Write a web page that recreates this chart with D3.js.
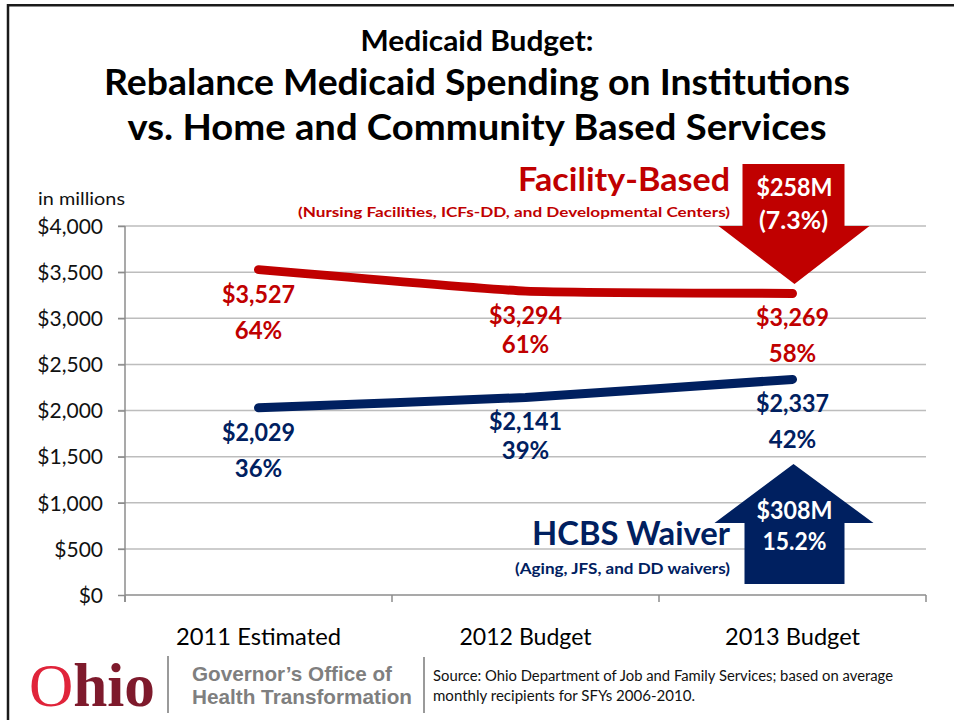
<!DOCTYPE html>
<html>
<head>
<meta charset="utf-8">
<script src="https://cdn.jsdelivr.net/npm/d3@7"></script>
<style>
  html, body { margin: 0; padding: 0; background: #fff; }
  svg { display: block; font-family: Lato, "Open Sans", sans-serif; }
</style>
</head>
<body>
<svg id="chart" width="954" height="720"></svg>
<script>
// ---- data ----
const categories = ["2011 Estimated", "2012 Budget", "2013 Budget"];
const facilityValues = [3527, 3294, 3269];
const facilityShares = ["64%", "61%", "58%"];
const hcbsValues = [2029, 2141, 2337];
const hcbsShares = ["36%", "39%", "42%"];
const yTickValues = [0, 500, 1000, 1500, 2000, 2500, 3000, 3500, 4000];
const facilityChange = ["$258M", "(7.3%)"];
const hcbsChange = ["$308M", "15.2%"];

const RED = "#C00000";
const NAVY = "#002060";

const svg = d3.select("#chart");

// stretch/squeeze a text element horizontally to a given width
function fit(sel, w) {
  sel.attr("textLength", w).attr("lengthAdjust", "spacingAndGlyphs");
  return sel;
}

// slide frame (top and left rule)
svg.append("line").attr("x1", 7).attr("x2", 954).attr("y1", 5.3).attr("y2", 5.3)
  .attr("stroke", "#1a1a1a").attr("stroke-width", 2.5);
svg.append("line").attr("x1", 8).attr("x2", 8).attr("y1", 4).attr("y2", 720)
  .attr("stroke", "#1a1a1a").attr("stroke-width", 2.5);

// titles
const titles = [
  { t: "Medicaid Budget:", y: 51, size: 28, w: 233 },
  { t: "Rebalance Medicaid Spending on Institutions", y: 95, size: 36, w: 746 },
  { t: "vs. Home and Community Based Services", y: 140, size: 36, w: 699 }
];
titles.forEach(d => {
  fit(svg.append("text")
    .attr("x", 477).attr("y", d.y)
    .attr("text-anchor", "middle")
    .attr("font-weight", 700).attr("font-size", d.size)
    .attr("fill", "#000").text(d.t), d.w);
});

// ---- scales ----
const plotLeft = 125, plotRight = 926, plotTop = 226, plotBottom = 595;
const y = d3.scaleLinear().domain([0, 4000]).range([plotBottom, plotTop]);
const x = d3.scaleBand().domain(categories).range([plotLeft, plotRight]);
const cx = c => x(c) + x.bandwidth() / 2;

// horizontal gridlines
const grid = svg.append("g");
grid.selectAll("line").data(yTickValues.filter(v => v > 0)).join("line")
  .attr("x1", plotLeft - 7).attr("x2", plotRight)
  .attr("y1", d => y(d)).attr("y2", d => y(d))
  .attr("stroke", "#bdbdbd").attr("stroke-width", 1.5);

// y axis
const yAxis = svg.append("g")
  .attr("transform", `translate(${plotLeft},0)`)
  .call(d3.axisLeft(y).tickValues(yTickValues).tickSize(7).tickPadding(15)
    .tickFormat(d => "$" + d3.format(",")(d)));
yAxis.select(".domain").attr("stroke", "#8c8c8c").attr("stroke-width", 1.5)
  .attr("d", `M0,${plotTop}V${plotBottom + 7}`);
yAxis.selectAll(".tick line").attr("stroke", "#8c8c8c").attr("stroke-width", 1.5);
yAxis.selectAll(".tick text").attr("font-size", 21).attr("fill", "#111")
  .attr("font-family", "Lato, sans-serif").attr("dy", "0.35em");

// x axis
const xAxis = svg.append("g")
  .attr("transform", `translate(0,${plotBottom})`)
  .call(d3.axisBottom(x).tickSize(0).tickPadding(0));
xAxis.select(".domain").attr("stroke", "#8c8c8c").attr("stroke-width", 1.5)
  .attr("d", `M${plotLeft},0H${plotRight}`);
xAxis.selectAll(".tick text").remove();
// category boundary ticks
const bounds = categories.map(c => x(c)).concat([plotRight]);
svg.append("g").selectAll("line").data(bounds).join("line")
  .attr("x1", d => d).attr("x2", d => d)
  .attr("y1", plotBottom).attr("y2", plotBottom + 7)
  .attr("stroke", "#8c8c8c").attr("stroke-width", 1.5);
// category labels
const catWidths = [165, 132, 135];
categories.forEach((c, i) => {
  fit(svg.append("text").attr("x", cx(c)).attr("y", 645)
    .attr("text-anchor", "middle").attr("font-size", 23).attr("fill", "#000")
    .text(c), catWidths[i]);
});

// unit label
fit(svg.append("text").attr("x", 38).attr("y", 205).attr("font-size", 18)
  .attr("fill", "#111").text("in millions"), 87);

// ---- series lines ----
const line = d3.line().x(d => cx(d.c)).y(d => y(d.v)).curve(d3.curveCardinal.tension(0.6));
const series = [
  { values: facilityValues, shares: facilityShares, color: RED },
  { values: hcbsValues, shares: hcbsShares, color: NAVY }
];
const pctOffsets = [69, 62, 69];
series.forEach(s => {
  const pts = categories.map((c, i) => ({ c, v: s.values[i] }));
  svg.append("path").datum(pts).attr("d", line)
    .attr("fill", "none").attr("stroke", s.color).attr("stroke-width", 9)
    .attr("stroke-linecap", "round").attr("stroke-linejoin", "round");
  pts.forEach((p, i) => {
    fit(svg.append("text").attr("x", cx(p.c)).attr("y", y(p.v) + 33)
      .attr("text-anchor", "middle").attr("font-weight", 700).attr("font-size", 24)
      .attr("fill", s.color).text("$" + d3.format(",")(p.v)), 73);
    svg.append("text").attr("x", cx(p.c)).attr("y", y(p.v) + pctOffsets[i])
      .attr("text-anchor", "middle").attr("font-weight", 700).attr("font-size", 24)
      .attr("fill", s.color).text(s.shares[i]);
  });
});

// ---- change arrows ----
const ax = cx(categories[2]);
// downward arrow (facility-based)
const down = d3.path();
down.moveTo(ax - 50, 164); down.lineTo(ax + 52, 164); down.lineTo(ax + 52, 226);
down.lineTo(ax + 77, 226); down.lineTo(ax + 2, 284); down.lineTo(ax - 74, 226);
down.lineTo(ax - 50, 226); down.closePath();
svg.append("path").attr("d", down.toString()).attr("fill", RED);
fit(svg.append("text").attr("x", ax + 2).attr("y", 196).attr("text-anchor", "middle")
  .attr("font-weight", 700).attr("font-size", 24).attr("fill", "#fff").text(facilityChange[0]), 76);
fit(svg.append("text").attr("x", ax + 1).attr("y", 229).attr("text-anchor", "middle")
  .attr("font-weight", 700).attr("font-size", 24).attr("fill", "#fff").text(facilityChange[1]), 69);

// upward arrow (HCBS)
const up = d3.path();
up.moveTo(ax - 48, 584); up.lineTo(ax + 52, 584); up.lineTo(ax + 52, 523);
up.lineTo(ax + 81, 523); up.lineTo(ax + 1, 464); up.lineTo(ax - 78, 523);
up.lineTo(ax - 48, 523); up.closePath();
svg.append("path").attr("d", up.toString()).attr("fill", NAVY);
fit(svg.append("text").attr("x", ax + 2).attr("y", 519).attr("text-anchor", "middle")
  .attr("font-weight", 700).attr("font-size", 24).attr("fill", "#fff").text(hcbsChange[0]), 76);
fit(svg.append("text").attr("x", ax + 2).attr("y", 550).attr("text-anchor", "middle")
  .attr("font-weight", 700).attr("font-size", 24).attr("fill", "#fff").text(hcbsChange[1]), 64);

// ---- series captions ----
fit(svg.append("text").attr("x", 730).attr("y", 191).attr("text-anchor", "end")
  .attr("font-weight", 700).attr("font-size", 32).attr("fill", RED).text("Facility-Based"), 212);
fit(svg.append("text").attr("x", 730).attr("y", 217).attr("text-anchor", "end")
  .attr("font-weight", 700).attr("font-size", 14).attr("fill", RED)
  .text("(Nursing Facilities, ICFs-DD, and Developmental Centers)"), 432);
fit(svg.append("text").attr("x", 730).attr("y", 545).attr("text-anchor", "end")
  .attr("font-weight", 700).attr("font-size", 33).attr("fill", NAVY).text("HCBS Waiver"), 198);
fit(svg.append("text").attr("x", 730).attr("y", 574).attr("text-anchor", "end")
  .attr("font-weight", 700).attr("font-size", 15).attr("fill", NAVY)
  .text("(Aging, JFS, and DD waivers)"), 215);

// ---- footer ----
const ohio = svg.append("text").attr("x", 29).attr("y", 706)
  .attr("font-family", "'Liberation Serif', serif").attr("font-weight", 700)
  .attr("font-size", 62);
ohio.append("tspan").attr("fill", "#E0243A").attr("font-weight", 400).text("O");
ohio.append("tspan").attr("fill", "#7E1A2C").text("hio");
fit(ohio, 126);

svg.append("line").attr("x1", 168).attr("x2", 168).attr("y1", 656).attr("y2", 713)
  .attr("stroke", "#9a9a9a").attr("stroke-width", 2);
svg.append("line").attr("x1", 424).attr("x2", 424).attr("y1", 657).attr("y2", 713)
  .attr("stroke", "#9a9a9a").attr("stroke-width", 2);

fit(svg.append("text").attr("x", 192).attr("y", 681)
  .attr("font-family", "'Liberation Sans', Arial, sans-serif").attr("font-weight", 700)
  .attr("font-size", 21).attr("fill", "#7f7f7f").text("Governor’s Office of"), 200);
fit(svg.append("text").attr("x", 192).attr("y", 704)
  .attr("font-family", "'Liberation Sans', Arial, sans-serif").attr("font-weight", 700)
  .attr("font-size", 21).attr("fill", "#7f7f7f").text("Health Transformation"), 220);

fit(svg.append("text").attr("x", 433).attr("y", 681).attr("font-size", 14.5).attr("fill", "#111")
  .text("Source: Ohio Department of Job and Family Services; based on average"), 460);
fit(svg.append("text").attr("x", 433).attr("y", 701).attr("font-size", 14.5).attr("fill", "#111")
  .text("monthly recipients for SFYs 2006-2010."), 262);
</script>
</body>
</html>
